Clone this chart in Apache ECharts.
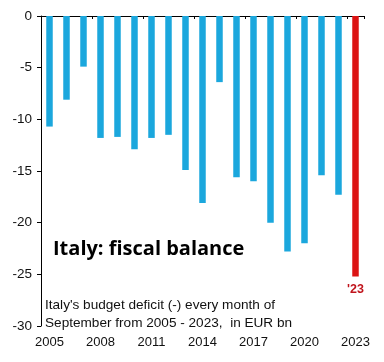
<!DOCTYPE html>
<html><head><meta charset="utf-8">
<script src="https://cdn.jsdelivr.net/npm/echarts@6/dist/echarts.min.js"></script>
<style>html,body{margin:0;padding:0;background:#fff}#c{width:384px;height:362px}</style>
</head><body><div id="c"></div>
<script>
const years = ['2005','2006','2007','2008','2009','2010','2011','2012','2013','2014','2015','2016','2017','2018','2019','2020','2021','2022','2023'];
const deficit = [-10.7,-8.1,-4.9,-11.8,-11.7,-12.9,-11.8,-11.5,-14.9,-18.1,-6.4,-15.6,-16.0,-20.0,-22.8,-22.0,-15.4,-17.3,-25.2];
const yTicks = [0,-5,-10,-15,-20,-25,-30];
const titleText = 'Italy: fiscal balance';
const noteLines = ["Italy's budget deficit (-) every month of", 'September from 2005 - 2023,  in EUR bn'];
const highlightLabel = "'23";

const font = 'Liberation Sans';
const chart = echarts.init(document.getElementById('c'), null, {renderer:'canvas'});
const data = deficit.map((v,i)=> i===deficit.length-1 ? {
  value:v, itemStyle:{color:'#dc1414'},
  label:{show:true, position:'bottom', distance:7, formatter:highlightLabel, color:'#c0141c', fontSize:12.5, fontWeight:'bold', fontFamily:font}
} : v);
chart.setOption({
  animation:false,
  backgroundColor:'#fff',
  grid:{left:41, right:20, top:16, bottom:36},
  xAxis:[{
    type:'category', data:years, position:'top', boundaryGap:true,
    axisLine:{onZero:false, lineStyle:{color:'#000', width:1}},
    axisTick:{show:true, inside:true, length:3, lineStyle:{color:'#000'}},
    axisLabel:{show:false}, splitLine:{show:false}
  },{
    type:'category', data:years, position:'bottom', boundaryGap:true,
    axisLine:{show:false}, axisTick:{show:false},
    axisLabel:{interval:2, margin:10, color:'#111', fontSize:13, fontFamily:font}
  }],
  yAxis:{
    type:'value', min:-30, max:0, interval:5,
    axisLine:{show:true, lineStyle:{color:'#000'}},
    axisTick:{show:true, length:4, lineStyle:{color:'#000'}},
    splitLine:{show:false},
    axisLabel:{margin:9, color:'#111', fontSize:13.5, fontFamily:font, formatter:v=>String(v)}
  },
  series:[{type:'bar', xAxisIndex:0, data:data, barWidth:6.5, itemStyle:{color:'#1ba7dd'}}],
  graphic:[
    {type:'text', left:53, top:239, style:{text:titleText, font:'bold 20px "Open Sans"', fill:'#000'}},
    {type:'text', left:45, top:296, style:{text:noteLines.join('\n'), font:'13.6px "Liberation Sans"', lineHeight:18, fill:'#111'}}
  ]
});
</script></body></html>
